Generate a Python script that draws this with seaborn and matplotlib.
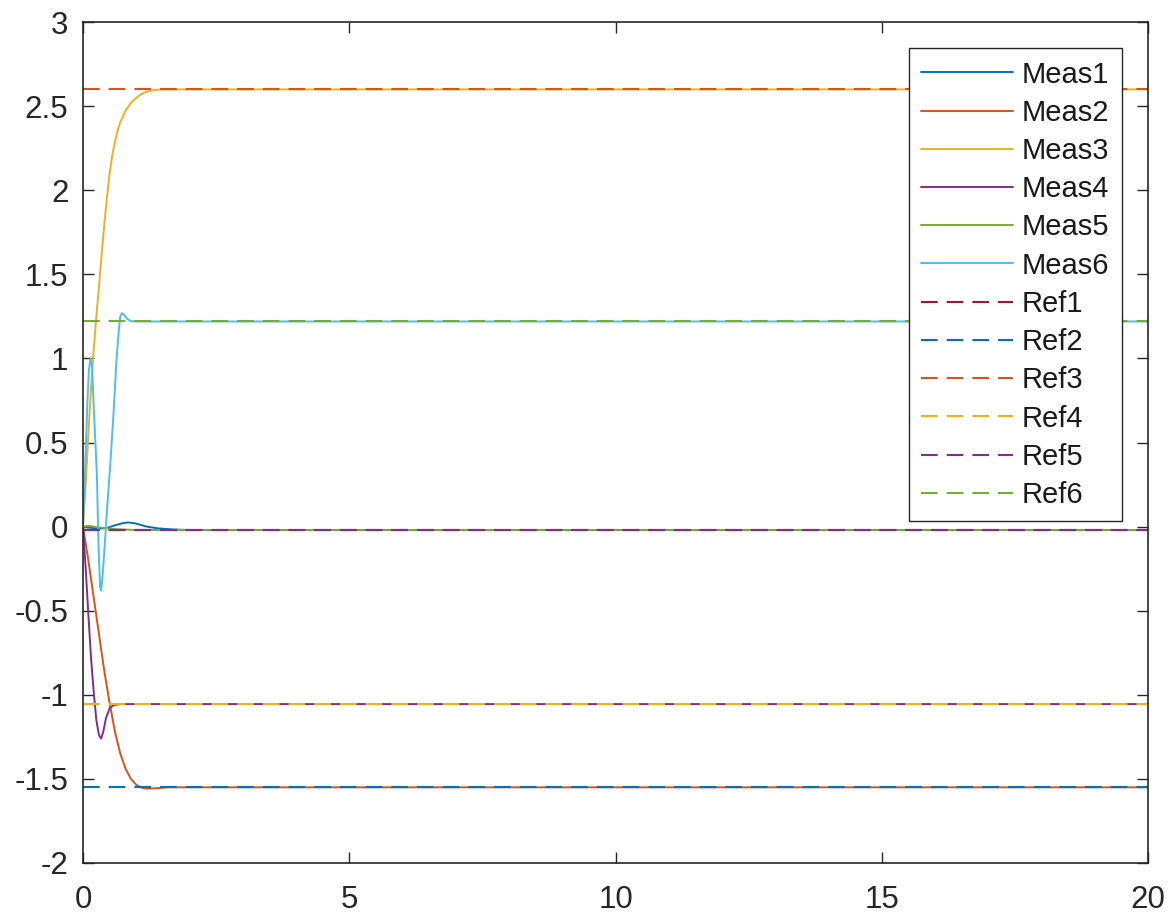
import matplotlib
matplotlib.use("Agg")
import matplotlib.pyplot as plt
import seaborn as sns

# time points and values (after ~2 s everything is flat up to t=20)
t1 = [0, 0.1, 0.3, 0.45, 0.6, 0.75, 0.85, 1.0, 1.2, 1.4, 1.7, 2.0, 20]
meas1 = [0.0, -0.005, -0.012, -0.008, 0.008, 0.021, 0.025, 0.018, 0.0, -0.01, -0.017, -0.02, -0.02]

t2 = [0, 0.1, 0.2, 0.3, 0.4, 0.5, 0.6, 0.7, 0.8, 0.9, 1.0, 1.1, 1.2, 1.35, 1.6, 20]
meas2 = [0.0, -0.2, -0.42, -0.64, -0.86, -1.05, -1.22, -1.35, -1.44, -1.5, -1.535, -1.552, -1.558, -1.556, -1.55, -1.55]

t3 = [0, 0.05, 0.1, 0.15, 0.2, 0.25, 0.3, 0.35, 0.4, 0.45, 0.5, 0.55, 0.6, 0.65, 0.7,
      0.8, 0.9, 1.0, 1.1, 1.2, 1.35, 1.5, 20]
meas3 = [0.0, 0.25, 0.55, 0.82, 1.05, 1.25, 1.43, 1.62, 1.8, 1.96, 2.1, 2.21, 2.29, 2.355, 2.405,
         2.475, 2.52, 2.55, 2.573, 2.587, 2.597, 2.6, 2.6]

t4 = [0, 0.05, 0.1, 0.15, 0.2, 0.25, 0.3, 0.34, 0.38, 0.43, 0.5, 0.57, 0.7, 20]
meas4 = [0.0, -0.25, -0.52, -0.78, -0.98, -1.15, -1.24, -1.26, -1.22, -1.14, -1.08, -1.062, -1.055, -1.055]

t5 = [0, 0.1, 0.3, 0.6, 1.0, 20]
meas5 = [0.0, 0.005, -0.005, -0.015, -0.02, -0.02]

t6 = [0, 0.04, 0.08, 0.11, 0.14, 0.17, 0.2, 0.26, 0.29, 0.32, 0.34, 0.37, 0.41, 0.45, 0.51,
      0.57, 0.63, 0.67, 0.7, 0.73, 0.77, 0.83, 0.9, 1.0, 20]
meas6 = [0.0, 0.35, 0.72, 0.93, 1.0, 0.95, 0.72, 0.31, -0.1, -0.36, -0.38, -0.28, -0.1, 0.1, 0.36,
         0.66, 1.0, 1.16, 1.25, 1.27, 1.26, 1.235, 1.222, 1.22, 1.22]

ref_names = ["Ref1", "Ref2", "Ref3", "Ref4", "Ref5", "Ref6"]
ref_values = [-0.02, -1.55, 2.6, -1.055, -0.02, 1.222]
t_ref = [0, 20]

# MATLAB default colour order
matlab_colors = ["#0072BD", "#D95319", "#EDB120", "#7E2F8E", "#77AC30", "#4DBEEE", "#A2142F"]

sns.set_style("ticks")
plt.rcParams["font.family"] = ["Liberation Sans", "DejaVu Sans"]
plt.rcParams["axes.unicode_minus"] = False
plt.rcParams["lines.scale_dashes"] = False

fig = plt.figure(figsize=(11.76, 9.22), dpi=100)
ax = fig.add_axes([0.0706, 0.064, 0.9056, 0.912])

meas_series = [(t1, meas1), (t2, meas2), (t3, meas3), (t4, meas4), (t5, meas5), (t6, meas6)]
for i, (tt, yy) in enumerate(meas_series):
    sns.lineplot(x=tt, y=yy, color=matlab_colors[i], linewidth=1.4, ax=ax,
                 label="Meas%d" % (i + 1), estimator=None)

# Ref lines continue the colour order (Ref1 takes colour 7, then wraps round)
for i, (name, v) in enumerate(zip(ref_names, ref_values)):
    col = matlab_colors[(6 + i) % 7]
    sns.lineplot(x=t_ref, y=[v, v], color=col, linewidth=1.5, ax=ax, label=name,
                 linestyle=(0, (12, 6.5)), estimator=None)

ax.set_xlim(0, 20)
ax.set_ylim(-2, 3)
ax.set_xticks([0, 5, 10, 15, 20])
ax.set_yticks([-2, -1.5, -1, -0.5, 0, 0.5, 1, 1.5, 2, 2.5, 3])
ax.set_yticklabels(["-2", "-1.5", "-1", "-0.5", "0", "0.5", "1", "1.5", "2", "2.5", "3"])

for s in ax.spines.values():
    s.set_visible(True)
    s.set_color("#262626")
    s.set_linewidth(1.2)
ax.tick_params(axis="both", direction="in", length=8, width=1.0, colors="#262626",
               labelsize=22.5, top=True, right=True)
ax.tick_params(axis="x", pad=16)
ax.tick_params(axis="y", pad=10.5)
for lbl in ax.get_xticklabels() + ax.get_yticklabels():
    lbl.set_color("#262626")

leg = ax.legend(loc="upper right", fontsize=21, handlelength=3.15, handletextpad=0.3,
                borderpad=0.42, labelspacing=0.35, borderaxespad=0.9,
                fancybox=False, framealpha=1, edgecolor="#262626")
leg.get_frame().set_linewidth(1.0)
for txt in leg.get_texts():
    txt.set_color("#1a1a1a")

plt.savefig("out.png", dpi=100)
